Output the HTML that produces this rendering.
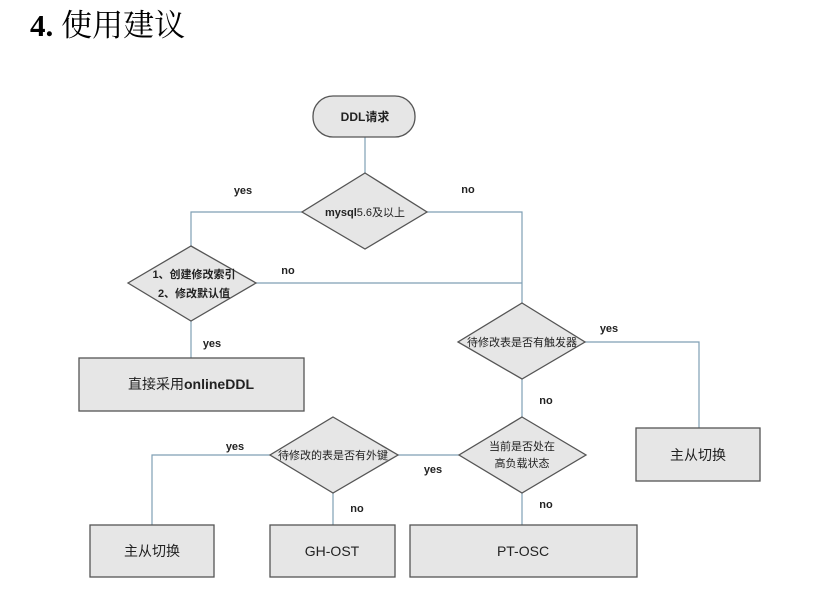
<!DOCTYPE html>
<html><head><meta charset="utf-8"><style>
body{margin:0;background:#fff;width:832px;height:592px;overflow:hidden}
svg text{font-family:"Liberation Sans","Noto Sans CJK SC",sans-serif}
</style></head><body>
<svg width="832" height="592" xmlns="http://www.w3.org/2000/svg">
<text x="30" y="36" font-size="31" fill="#000"><tspan font-family="Liberation Serif,serif" font-weight="bold">4.</tspan><tspan font-family="Noto Serif CJK SC,serif"> 使用建议</tspan></text>
<g stroke="#7f9fb5" stroke-width="1.2" fill="none">
<path d="M365 137V173"/>
<path d="M302 212H191V246"/>
<path d="M427 212H522V303"/>
<path d="M256 283H522"/>
<path d="M191 321V358"/>
<path d="M585 342H699V428"/>
<path d="M522 379V417"/>
<path d="M398 455H459"/>
<path d="M270 455H152V525"/>
<path d="M333 493V525"/>
<path d="M522 493V525"/>
</g>
<g fill="#e6e6e6" stroke="#555" stroke-width="1.3">
<rect x="313" y="96" width="102" height="41" rx="20"/>
<polygon points="365,173 427,212 365,249 302,212"/>
<polygon points="191,246 256,283 191,321 128,283"/>
<polygon points="522,303 585,342 522,379 458,342"/>
<polygon points="522,417 586,455 522,493 459,455"/>
<polygon points="333,417 398,455 333,493 270,455"/>
<rect x="79" y="358" width="225" height="53"/>
<rect x="636" y="428" width="124" height="53"/>
<rect x="90" y="525" width="124" height="52"/>
<rect x="270" y="525" width="125" height="52"/>
<rect x="410" y="525" width="227" height="52"/>
</g>
<g font-size="12" fill="#222" text-anchor="middle">
<text x="365" y="121" font-weight="bold">DDL请求</text>
<text x="365" y="216" font-size="11"><tspan font-weight="bold">mysql</tspan>5.6及以上</text>
<text x="194" y="278" font-size="11" font-weight="bold">1、创建修改索引</text>
<text x="194" y="297" font-size="11" font-weight="bold">2、修改默认值</text>
<text x="522" y="346" font-size="11">待修改表是否有触发器</text>
<text x="522" y="450" font-size="11">当前是否处在</text>
<text x="522" y="467" font-size="11">高负载状态</text>
<text x="333" y="459" font-size="11">待修改的表是否有外键</text>
<text x="191" y="389" font-size="14">直接采用<tspan font-weight="bold">onlineDDL</tspan></text>
<text x="698" y="460" font-size="14">主从切换</text>
<text x="152" y="556" font-size="14">主从切换</text>
<text x="332" y="556" font-size="14">GH-OST</text>
<text x="523" y="556" font-size="14">PT-OSC</text>
</g>
<g font-size="11" font-weight="bold" fill="#222" text-anchor="middle">
<text x="243" y="194">yes</text>
<text x="468" y="193">no</text>
<text x="288" y="274">no</text>
<text x="212" y="347">yes</text>
<text x="609" y="332">yes</text>
<text x="546" y="404">no</text>
<text x="235" y="450">yes</text>
<text x="433" y="473">yes</text>
<text x="357" y="512">no</text>
<text x="546" y="508">no</text>
</g>
</svg>
</body></html>
